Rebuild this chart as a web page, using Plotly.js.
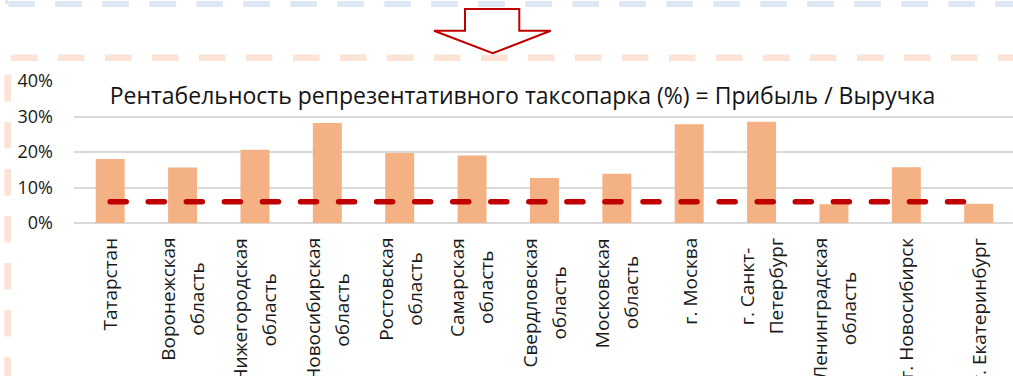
<!DOCTYPE html>
<html>
<head>
<meta charset="utf-8">
<script src="https://cdn.plot.ly/plotly-3.0.1.min.js"></script>
<style>
  html, body { margin: 0; padding: 0; background: #ffffff; }
  #chart { width: 1013px; height: 376px; }
</style>
</head>
<body>
<div id="chart"></div>
<script>
// Regions (line breaks mark where the label wraps)
const categories = [
  "Татарстан",
  "Воронежская<br>область",
  "Нижегородская<br>область",
  "Новосибирская<br>область",
  "Ростовская<br>область",
  "Самарская<br>область",
  "Свердловская<br>область",
  "Московская<br>область",
  "г. Москва",
  "г. Санкт-<br>Петербург",
  "Ленинградская<br>область",
  "г. Новосибирск",
  "г. Екатеринбург"
];

// Profitability of the representative taxi fleet, share of revenue
const profitability = [0.180, 0.156, 0.206, 0.282, 0.197, 0.190, 0.127, 0.139, 0.278, 0.285, 0.053, 0.157, 0.054];

// Reference level drawn as the red dashed line
const referenceLevel = [0.06, 0.06, 0.06, 0.06, 0.06, 0.06, 0.06, 0.06, 0.06, 0.06, 0.06, 0.06, 0.06];

const yTickValues = [0, 0.1, 0.2, 0.3, 0.4];
const yTickLabels = ["0%", "10%", "20%", "30%", "40%"];

const chartTitle = "Рентабельность репрезентативного таксопарка (%) = Прибыль / Выручка";

// ---- geometry -------------------------------------------------------
const W = 1013, H = 376;
const M = { l: 74, r: 0, t: 81, b: 153 };
const plotW = W - M.l - M.r;
const plotH = H - M.t - M.b;
const px2x = px => (px - M.l) / plotW;          // pixel -> paper x
const py2y = py => (H - M.b - py) / plotH;      // pixel -> paper y

const FONT = '"Open Sans", "Noto Sans", "DejaVu Sans", sans-serif';
const LABEL_SIZE = 19;
const LABEL_LINE_STEP = 29;
const LABEL_GAP = 15;

// measure label lines so that wrapped lines are centred on the longest one
const ctx = document.createElement('canvas').getContext('2d');
ctx.font = LABEL_SIZE + 'px "Open Sans"';

const annotations = [];
categories.forEach((cat, i) => {
  const lines = cat.split('<br>');
  const longest = Math.max(...lines.map(s => ctx.measureText(s).width));
  lines.forEach((line, j) => {
    annotations.push({
      text: line,
      xref: 'x', x: i,
      yref: 'paper', y: 0,
      xanchor: 'center', yanchor: 'middle',
      xshift: (j - (lines.length - 1) / 2) * LABEL_LINE_STEP,
      yshift: -(LABEL_GAP + longest / 2),
      textangle: -90,
      showarrow: false,
      font: { family: FONT, size: LABEL_SIZE, color: '#1a1a1a' }
    });
  });
});

// ---- decorative frame pieces and the arrow above the chart ----------
const blue = '#DEE8F4', peach = '#FBE3D5';
function hLine(x0, x1, y, color, width, dash) {
  return { type: 'line', xref: 'paper', yref: 'paper', layer: 'above',
    x0: px2x(x0), x1: px2x(x1), y0: py2y(y), y1: py2y(y),
    line: { color: color, width: width, dash: dash } };
}
function vLine(x, y0, y1, color, width, dash) {
  return { type: 'line', xref: 'paper', yref: 'paper', layer: 'above',
    x0: px2x(x), x1: px2x(x), y0: py2y(y0), y1: py2y(y1),
    line: { color: color, width: width, dash: dash } };
}
const arrowPts = [[465, 30.7], [465, 9], [519.3, 9], [519.3, 30.7], [550.7, 30.7], [492.7, 53.3], [434, 30.7]];
const arrowPath = 'M' + arrowPts.map(p => px2x(p[0]) + ',' + py2y(p[1])).join(' L') + ' Z';

const shapes = [
  hLine(8.3, 1040, 4, blue, 6, '26.5px,20.5px'),
  vLine(6.5, 0, 4, blue, 3, 'solid'),
  hLine(11, 1040, 57.7, peach, 6.5, '26.5px,20.5px'),
  vLine(7.7, 75, 400, peach, 6.5, '26.5px,20.5px'),
  { type: 'path', xref: 'paper', yref: 'paper', layer: 'above', path: arrowPath,
    fillcolor: '#ffffff', line: { color: '#C00000', width: 2 } }
];

// ---- traces ---------------------------------------------------------
const bars = {
  type: 'bar',
  x: categories,
  y: profitability,
  marker: { color: '#F4B183', line: { width: 0 } },
  hoverinfo: 'skip'
};

const level = {
  type: 'scatter',
  mode: 'lines',
  x: categories,
  y: referenceLevel,
  line: { color: '#C00000', width: 5.5, dash: '16px,22.06px' },
  hoverinfo: 'skip'
};

const layout = {
  width: W, height: H,
  margin: M,
  paper_bgcolor: '#ffffff',
  plot_bgcolor: '#ffffff',
  showlegend: false,
  bargap: 0.6,
  font: { family: FONT, color: '#1a1a1a' },
  title: {
    text: chartTitle,
    xref: 'container', x: 522.5 / W, xanchor: 'center',
    yref: 'container', y: 1 - 96 / H, yanchor: 'middle',
    font: { family: FONT, size: 23, color: '#141414' }
  },
  xaxis: {
    type: 'category',
    range: [-0.5, 12.474],
    showticklabels: false,
    showgrid: false,
    zeroline: false,
    showline: false,
    ticks: '',
    fixedrange: true
  },
  yaxis: {
    range: [0, 0.4],
    tickvals: yTickValues,
    ticktext: yTickLabels,
    ticks: '',
    ticklabelstandoff: 20,
    tickfont: { family: FONT, size: 18, color: '#1a1a1a' },
    showgrid: true,
    gridcolor: '#D9D9D9',
    gridwidth: 2,
    zeroline: true,
    zerolinecolor: '#D9D9D9',
    zerolinewidth: 2,
    showline: false,
    automargin: false,
    fixedrange: true
  },
  annotations: annotations,
  shapes: shapes
};

Plotly.newPlot('chart', [bars, level], layout, { staticPlot: true, displayModeBar: false })
  .then(() => {
    // rounded dash ends on the reference line
    document.querySelectorAll('#chart .scatterlayer path.js-line')
      .forEach(p => p.style.strokeLinecap = 'round');
  });
</script>
</body>
</html>
